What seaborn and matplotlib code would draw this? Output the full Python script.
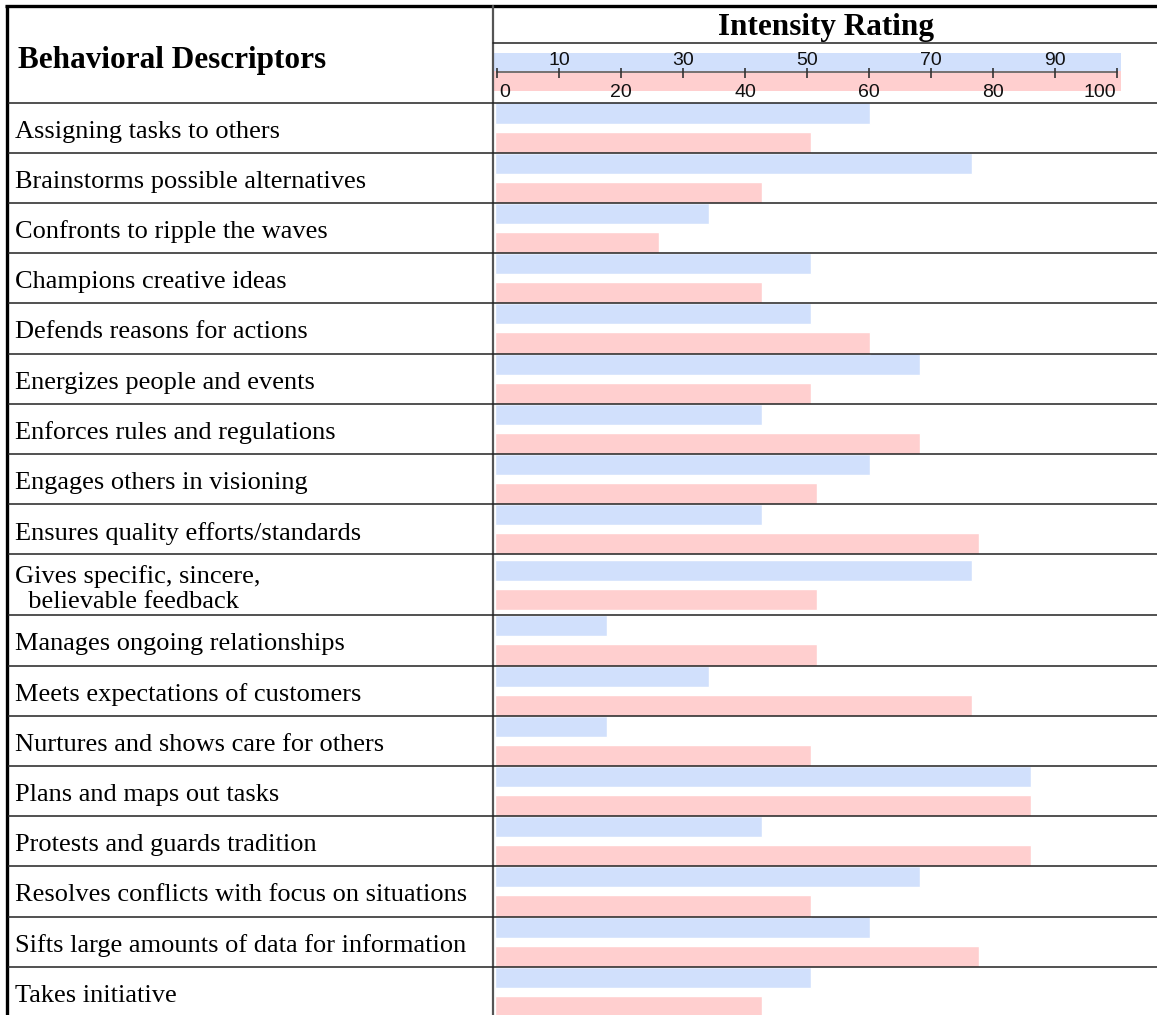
import matplotlib.pyplot as plt
import numpy as np
import pandas as pd
import seaborn as sns

# %%
descriptors = [
    "Assigning tasks to others",
    "Brainstorms possible alternatives",
    "Confronts to ripple the waves",
    "Champions creative ideas",
    "Defends reasons for actions",
    "Energizes people and events",
    "Enforces rules and regulations",
    "Engages others in visioning",
    "Ensures quality efforts/standards",
    "Gives specific, sincere,\n  believable feedback",
    "Manages ongoing relationships",
    "Meets expectations of customers",
    "Nurtures and shows care for others",
    "Plans and maps out tasks",
    "Protests and guards tradition",
    "Resolves conflicts with focus on situations",
    "Sifts large amounts of data for information",
    "Takes initiative",
]
series_names = ["series_1", "series_2"]
blue_values = [60.5, 77, 34.5, 51, 51, 68.5, 43, 60.5, 43, 77,
               18, 34.5, 18, 86.5, 43, 68.5, 60.5, 51]
pink_values = [51, 43, 26.5, 43, 60.5, 51, 68.5, 52, 78, 52,
               52, 77, 51, 86.5, 86.5, 51, 78, 43]
scale_ticks = [0, 10, 20, 30, 40, 50, 60, 70, 80, 90, 100]
scale_labels = ["0", "10", "20", "30", "40", "50", "60", "70", "80", "90", "100"]

BLUE = "#d1e0fc"
PINK = "#ffcfcf"
SERIF = "Liberation Serif"
SANS = ["Liberation Sans Narrow", "Liberation Sans"]

# %%
# layout in pixels from the top left corner
W, H = 1157, 1015
HEADER_BOTTOM = 102.5
ROW_H = 50.2
TALL_ROW_H = 61.0
SEP_X = 493

row_heights = np.array([TALL_ROW_H if "\n" in d else ROW_H for d in descriptors])
row_edges = HEADER_BOTTOM + np.concatenate([[0], np.cumsum(row_heights)])
row_centers = (row_edges[:-1] + row_edges[1:]) / 2

n = len(descriptors)
df = pd.DataFrame({
    "descriptor": descriptors * 2,
    "row": np.concatenate([row_centers, row_centers]),
    "series": [series_names[0]] * n + [series_names[1]] * n,
    "rating": blue_values + pink_values,
})

# %%
sns.set_style("white")
fig = plt.figure(figsize=(W / 100, H / 100), dpi=100)

# bars
ax = fig.add_axes([SEP_X / W, 0, 1 - SEP_X / W, 1 - HEADER_BOTTOM / H])
sns.barplot(
    data=df,
    x="rating",
    y="row",
    hue="series",
    orient="h",
    native_scale=True,
    palette=[BLUE, PINK],
    saturation=1,
    width=1.163,
    gap=0.28,
    errorbar=None,
    legend=False,
    ax=ax,
)
ax.set_xlim(-(495 - SEP_X) / 6.2, (W - 495) / 6.2)
ax.set_ylim(H, HEADER_BOTTOM)
ax.set_axis_off()

# scale in the header
hx = fig.add_axes([SEP_X / W, 1 - HEADER_BOTTOM / H, 1 - SEP_X / W, (HEADER_BOTTOM - 42) / H])
hx.set_xlim(-(497 - SEP_X) / 6.2, (W - 497) / 6.2)
hx.set_ylim(HEADER_BOTTOM, 42)
hx.set_axis_off()
hx.fill_between([-0.5, 100.6], 53.3, 70.7, color=BLUE, lw=0)
hx.fill_between([-0.5, 100.6], 70.7, 90.7, color=PINK, lw=0)
hx.plot([0, 100], [72.3, 72.3], color="#6a6a6a", lw=1.3)
hx.vlines(scale_ticks, 68, 77.5, color="#333333", lw=1.2)
for t, lab in zip(scale_ticks, scale_labels):
    if t % 20:
        hx.text(t, 65, lab, ha="center", va="baseline", fontsize=14,
                family=SANS, color="#111111")
    else:
        ha = "left" if t == 0 else ("right" if t == 100 else "center")
        x = t + (0.3 if t == 0 else (-0.2 if t == 100 else 0))
        hx.text(x, 97, lab, ha=ha, va="baseline", fontsize=14,
                family=SANS, color="#111111")

# table frame and left column
frame = fig.add_axes([0, 0, 1, 1], zorder=5)
frame.set_xlim(0, W)
frame.set_ylim(H, 0)
frame.set_axis_off()
frame.patch.set_alpha(0)

frame.plot([5, W], [6, 6], color="black", lw=2.4, solid_capstyle="butt")
frame.plot([6.5, 6.5], [5, H], color="black", lw=2.4, solid_capstyle="butt")
frame.plot([SEP_X, SEP_X], [6, H], color="#555555", lw=1.6)
frame.plot([SEP_X, W], [42.5, 42.5], color="#222222", lw=1.1)
frame.hlines(row_edges[:-1], 7.5, W, color="#222222", lw=1.1)

frame.text(18, 68, "Behavioral Descriptors", ha="left", va="baseline",
           fontsize=22.5, fontweight="bold", family=SERIF, color="black")
frame.text(825.5, 35, "Intensity Rating", ha="center", va="baseline",
           fontsize=22.5, fontweight="bold", family=SERIF, color="black")
for d, c in zip(descriptors, row_centers):
    frame.text(15, c + 4, d, ha="left", va="center", fontsize=19,
               family=SERIF, linespacing=1.2, color="black")

fig.savefig("out.png", dpi=100)
